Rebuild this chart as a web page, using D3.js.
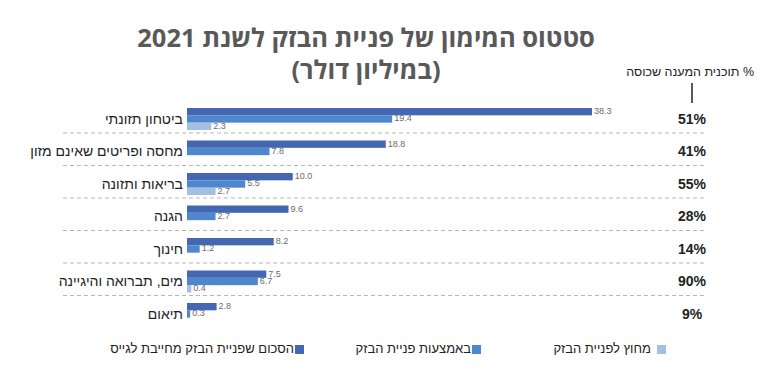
<!DOCTYPE html>
<html>
<head>
<meta charset="utf-8">
<script src="https://cdn.jsdelivr.net/npm/d3@7"></script>
<style>
  body { margin: 0; background: #fff; }
  svg { display: block; }
</style>
</head>
<body>
<svg id="chart" width="767" height="377"></svg>
<script>
const categories = ["ביטחון תזונתי", "מחסה ופריטים שאינם מזון", "בריאות ותזונה", "הגנה", "חינוך", "מים, תברואה והיגיינה", "תיאום"];
const required = [38.3, 18.8, 10.0, 9.6, 8.2, 7.5, 2.8];
const viaFlash = [19.4, 7.8, 5.5, 2.7, 1.2, 6.7, 0.3];
const outsideFlash = [2.3, null, 2.7, null, null, 0.4, null];
const coverage = ["51%", "41%", "55%", "28%", "14%", "90%", "9%"];
const seriesNames = ["הסכום שפניית הבזק מחייבת לגייס", "באמצעות פניית הבזק", "מחוץ לפניית הבזק"];
const seriesColors = ["#4467b2", "#4f87cf", "#a4bee6"];

const svg = d3.select("#chart");
const labelFont = "'Liberation Sans Narrow', 'Liberation Sans', sans-serif";
const titleFont = "'Open Sans', 'DejaVu Sans', sans-serif";

// --- title ---
const titleLines = ["סטטוס המימון של פניית הבזק לשנת 2021", "(במיליון דולר)"];
svg.append("g").selectAll("text")
    .data(titleLines)
    .join("text")
    .attr("x", 366)
    .attr("y", (d, i) => i === 0 ? 47 : 78.5)
    .attr("text-anchor", "middle")
    .attr("direction", "rtl")
    .style("font-family", titleFont)
    .style("font-weight", "bold")
    .style("font-size", "25.5px")
    .attr("fill", "#595959")
    .text(d => d);

// --- scales ---
const x = d3.scaleLinear().domain([0, 38.3]).range([187, 592]);
const y = d3.scaleBand().domain(categories).range([100, 327.5]);
const slot = d3.scaleBand().domain([0, 1, 2]).range([8, 30]);

const rows = categories.map((c, i) => ({
    cat: c,
    vals: [required[i], viaFlash[i], outsideFlash[i]],
    cov: coverage[i]
}));

// --- dividers ---
svg.append("g").selectAll("line")
    .data(categories.slice(1))
    .join("line")
    .attr("x1", 63).attr("x2", 707)
    .attr("y1", d => y(d) + 0.5).attr("y2", d => y(d) + 0.5)
    .attr("stroke", "#b5b5b5")
    .attr("stroke-dasharray", "4,3");

// --- bars ---
const rowG = svg.append("g").selectAll("g")
    .data(rows)
    .join("g")
    .attr("transform", d => `translate(0,${y(d.cat)})`);

const cells = rowG.selectAll("g.cell")
    .data(d => d.vals.map((v, k) => ({ v, k })).filter(e => e.v != null))
    .join("g").attr("class", "cell");

cells.append("rect")
    .attr("x", x(0))
    .attr("y", d => slot(d.k))
    .attr("width", d => x(d.v) - x(0))
    .attr("height", slot.bandwidth())
    .attr("fill", d => seriesColors[d.k]);

cells.append("text")
    .attr("x", d => x(d.v) + 2)
    .attr("y", d => slot(d.k) + slot.bandwidth() / 2)
    .attr("dominant-baseline", "middle")
    .style("font-family", labelFont)
    .style("font-size", "9px")
    .attr("fill", "#6b6b6b")
    .text(d => d3.format(".1f")(d.v));

// --- category labels ---
rowG.append("text")
    .attr("x", 183)
    .attr("y", 20)
    .attr("direction", "rtl")
    .attr("text-anchor", "start")
    .attr("dominant-baseline", "middle")
    .style("font-family", labelFont)
    .style("font-size", "14px")
    .attr("fill", "#222")
    .text(d => d.cat);

// --- coverage column ---
rowG.append("text")
    .attr("x", 692)
    .attr("y", 20)
    .attr("text-anchor", "middle")
    .attr("dominant-baseline", "middle")
    .style("font-family", labelFont)
    .style("font-weight", "bold")
    .style("font-size", "14px")
    .attr("fill", "#222")
    .text(d => d.cov);

svg.append("text")
    .attr("x", 754).attr("y", 73)
    .attr("direction", "rtl")
    .attr("text-anchor", "start")
    .attr("dominant-baseline", "middle")
    .style("font-family", labelFont)
    .style("font-size", "12.5px")
    .attr("fill", "#222")
    .text("% תוכנית המענה שכוסה");

svg.append("line")
    .attr("x1", 692).attr("x2", 692)
    .attr("y1", 83).attr("y2", 103)
    .attr("stroke", "#222")
    .attr("stroke-width", 1.5);

// --- legend ---
const legendX = [295, 472, 657];
const legend = svg.append("g").selectAll("g")
    .data(seriesNames)
    .join("g")
    .attr("transform", (d, i) => `translate(${legendX[i]},345)`);

legend.append("rect")
    .attr("width", 9).attr("height", 9)
    .attr("fill", (d, i) => seriesColors[i]);

legend.append("text")
    .attr("x", (d, i) => i === 2 ? -6 : -1)
    .attr("y", 5)
    .attr("direction", "rtl")
    .attr("text-anchor", "start")
    .attr("dominant-baseline", "middle")
    .style("font-family", labelFont)
    .style("font-size", "13px")
    .attr("fill", "#222")
    .text(d => d);
</script>
</body>
</html>
